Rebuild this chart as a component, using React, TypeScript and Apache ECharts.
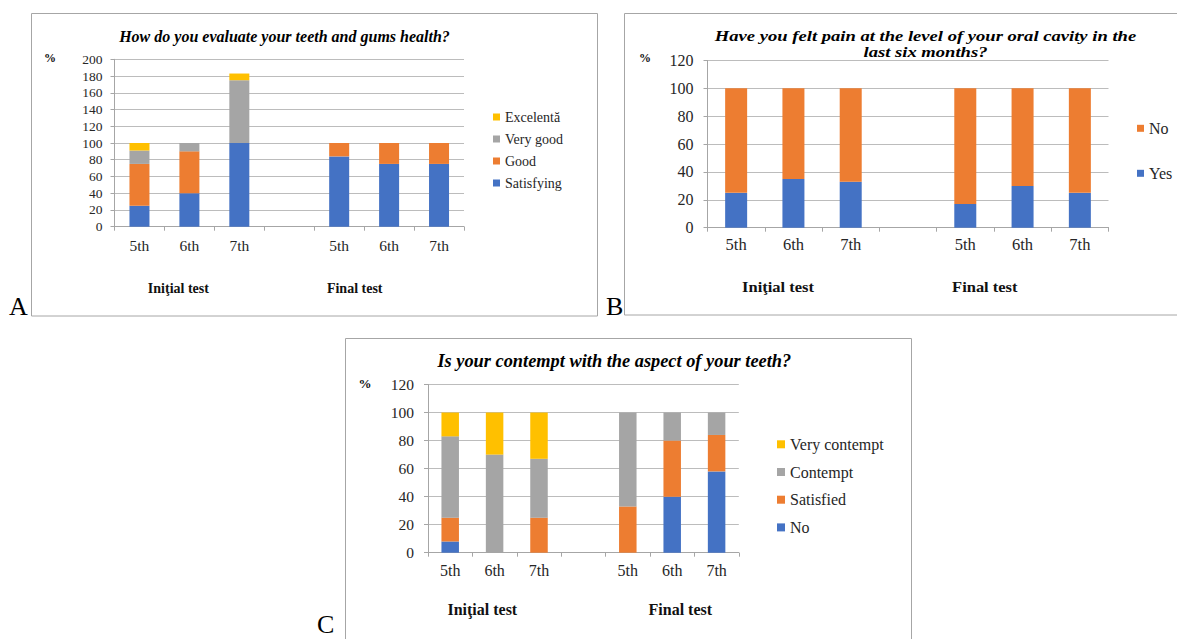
import React, { useEffect, useRef } from 'react';
import * as echarts from 'echarts';

// ---------- data ----------
const categories = ['5th', '6th', '7th', '', '5th', '6th', '7th'];
const groupLabels = ['Iniţial test', 'Final test'];

// Panel A: How do you evaluate your teeth and gums health?
const healthTitle = ['How do you evaluate your teeth and gums health?'];
const healthSatisfying = [25, 40, 100, 0, 84, 75, 75];
const healthGood = [50, 50, 0, 0, 16, 25, 25];
const healthVeryGood = [16, 10, 75, 0, 0, 0, 0];
const healthExcelenta = [9, 0, 8, 0, 0, 0, 0];

// Panel B: pain in the last six months
const painTitle = ['Have you felt pain at the level of your oral cavity in the', 'last six months?'];
const painYes = [25, 35, 33, 0, 17, 30, 25];
const painNo = [75, 65, 67, 0, 83, 70, 75];

// Panel C: aspect of teeth
const aspectTitle = ['Is your contempt with the aspect of your teeth?'];
const aspectNo = [8, 0, 0, 0, 0, 40, 58];
const aspectSatisfied = [17, 0, 25, 0, 33, 40, 26];
const aspectContempt = [58, 70, 42, 0, 67, 20, 16];
const aspectVeryContempt = [17, 30, 33, 0, 0, 0, 0];

// ---------- styles ----------
const SERIF = 'Liberation Serif';
const BLUE = '#4472C4';
const ORANGE = '#ED7D31';
const GRAY = '#A5A5A5';
const YELLOW = '#FFC000';
const AXIS = '#a6a6a6';
const GRID = '#bcbcbc';
const TXT = '#262626';

type SeriesDef = { name: string; data: number[]; color: string };

function text(x: number, y: number, t: string, size: number, opts: any = {}) {
  const { align = 'center', style = 'normal', weight = 'normal', sx = 1, ...extra } = opts;
  return {
    type: 'text',
    x,
    y,
    scaleX: sx,
    silent: true,
    style: {
      text: t,
      fontFamily: SERIF,
      fontSize: size,
      fontStyle: style,
      fontWeight: weight,
      fill: '#111',
      textAlign: align,
      align,
      textVerticalAlign: 'middle',
      verticalAlign: 'middle',
      ...extra,
    },
  };
}

function richStyle(size: number, lineHeight?: number) {
  return {
    fontFamily: SERIF,
    fontSize: size,
    fontStyle: 'normal',
    fontWeight: 'normal',
    color: TXT,
    ...(lineHeight ? { lineHeight } : {}),
  };
}

function buildOption(p: any) {
  const series = p.series.map((s: SeriesDef) => ({
    type: 'bar',
    name: s.name,
    stack: 'total',
    data: s.data,
    barWidth: p.barWidth,
    itemStyle: { color: s.color },
    emphasis: { disabled: true },
  }));
  const titleTexts = p.title.lines.map((line: string, i: number) =>
    text(p.title.x, p.title.y + i * p.title.lineGap, line, p.title.size, {
      style: 'italic',
      weight: 'bold',
      fill: '#000',
      sx: p.title.sx,
    })
  );
  return {
    animation: false,
    textStyle: { fontFamily: SERIF },
    grid: { left: p.grid.left, top: p.grid.top, width: p.grid.width, height: p.grid.height, containLabel: false },
    xAxis: {
      type: 'category',
      data: categories,
      axisLine: { show: true, lineStyle: { color: AXIS, width: 1 } },
      axisTick: { show: true, length: 4, lineStyle: { color: AXIS } },
      axisLabel: {
        interval: 0,
        margin: p.xMargin,
        fontFamily: SERIF,
        fontSize: p.xFont,
        color: TXT,
        formatter: (v: string) => (v ? `{t|${v}}` : ''),
        rich: { t: richStyle(p.xFont) },
      },
      splitLine: { show: false },
    },
    yAxis: {
      type: 'value',
      min: 0,
      max: p.yMax,
      interval: 20,
      axisLine: { show: true, lineStyle: { color: AXIS, width: 1 } },
      axisTick: { show: true, length: 4, lineStyle: { color: AXIS } },
      axisLabel: {
        margin: p.yMargin,
        fontFamily: SERIF,
        fontSize: p.yFont,
        color: TXT,
        formatter: (v: number) => `{t|${v}}`,
        rich: { t: richStyle(p.yFont) },
      },
      splitLine: { show: true, lineStyle: { color: GRID, width: 1 } },
    },
    legend: {
      orient: 'vertical',
      left: p.legend.left,
      top: p.legend.top,
      padding: 0,
      itemWidth: p.legend.size,
      itemHeight: p.legend.size,
      itemGap: p.legend.gap,
      icon: 'rect',
      selectedMode: false,
      data: p.legend.order,
      formatter: (name: string) => `{t|${name}}`,
      textStyle: {
        fontFamily: SERIF,
        fontSize: p.legend.font,
        color: TXT,
        lineHeight: p.legend.lineHeight,
        rich: { t: richStyle(p.legend.font, p.legend.lineHeight) },
      },
    },
    series,
    graphic: [
      {
        type: 'rect',
        silent: true,
        shape: { x: p.box.x, y: p.box.y, width: p.box.w, height: p.box.h },
        style: { fill: 'none', stroke: AXIS, lineWidth: 1 },
      },
      text(p.letter.x, p.letter.y, p.letter.t, 26, { align: 'left', fill: '#000' }),
      ...titleTexts,
      text(p.pct.x, p.pct.y, '%', p.pct.size, { weight: 'bold' }),
      text(p.groups[0].x, p.groups[0].y, groupLabels[0], p.groupFont, { weight: 'bold', sx: p.groupSx }),
      text(p.groups[1].x, p.groups[1].y, groupLabels[1], p.groupFont, { weight: 'bold', sx: p.groupSx }),
    ],
  };
}

const panelA = {
  grid: { left: 114.5, top: 59.3, width: 349.5, height: 167.4 },
  yMax: 200,
  barWidth: 20,
  xFont: 15.5,
  xMargin: 10.5,
  yFont: 13.5,
  yMargin: 12,
  series: [
    { name: 'Satisfying', data: healthSatisfying, color: BLUE },
    { name: 'Good', data: healthGood, color: ORANGE },
    { name: 'Very good', data: healthVeryGood, color: GRAY },
    { name: 'Excelentă', data: healthExcelenta, color: YELLOW },
  ],
  legend: { left: 493, top: 109, size: 7, gap: 6, font: 14, lineHeight: 16, order: ['Excelentă', 'Very good', 'Good', 'Satisfying'] },
  box: { x: 31.5, y: 13.5, w: 566, h: 302.5 },
  letter: { x: 9, y: 306, t: 'A' },
  title: { x: 284.5, y: 36.7, lines: healthTitle, size: 16, lineGap: 16, sx: 1 },
  pct: { x: 50, y: 58.3, size: 12 },
  groups: [{ x: 178.4, y: 288.3 }, { x: 354.7, y: 288.3 }],
  groupFont: 14,
  groupSx: 1,
};

const panelB = {
  grid: { left: 107.5, top: 60.4, width: 401, height: 167.3 },
  yMax: 120,
  barWidth: 22,
  xFont: 16.5,
  xMargin: 8.4,
  yFont: 16,
  yMargin: 14,
  series: [
    { name: 'Yes', data: painYes, color: BLUE },
    { name: 'No', data: painNo, color: ORANGE },
  ],
  legend: { left: 537, top: 119.3, size: 7, gap: 27, font: 16, lineHeight: 18, order: ['No', 'Yes'] },
  box: { x: 24.5, y: 13.5, w: 560, h: 301.5 },
  letter: { x: 6, y: 306, t: 'B' },
  title: { x: 325.5, y: 36.5, lines: painTitle, size: 15.5, lineGap: 16, sx: 1.2 },
  pct: { x: 45, y: 57.7, size: 12 },
  groups: [{ x: 178, y: 286.7 }, { x: 384.8, y: 286.7 }],
  groupFont: 15,
  groupSx: 1.1,
};

const panelC = {
  grid: { left: 128, top: 59.5, width: 310.8, height: 168.2 },
  yMax: 120,
  barWidth: 17.5,
  xFont: 16,
  xMargin: 9.3,
  yFont: 15.5,
  yMargin: 14,
  series: [
    { name: 'No', data: aspectNo, color: BLUE },
    { name: 'Satisfied', data: aspectSatisfied, color: ORANGE },
    { name: 'Contempt', data: aspectContempt, color: GRAY },
    { name: 'Very contempt', data: aspectVeryContempt, color: YELLOW },
  ],
  legend: { left: 477, top: 110.3, size: 8, gap: 9.7, font: 16, lineHeight: 18, order: ['Very contempt', 'Contempt', 'Satisfied', 'No'] },
  box: { x: 45.5, y: 13.5, w: 566, h: 310 },
  letter: { x: 17, y: 299, t: 'C' },
  title: { x: 314.3, y: 36, lines: aspectTitle, size: 18, lineGap: 18, sx: 1.02 },
  pct: { x: 65, y: 58.3, size: 13 },
  groups: [{ x: 182.3, y: 284 }, { x: 380.3, y: 284 }],
  groupFont: 16,
  groupSx: 1,
};

function Panel({ cfg, left, top, width, height }: any) {
  const ref = useRef<HTMLDivElement>(null);
  useEffect(() => {
    if (!ref.current) return;
    const chart = echarts.init(ref.current, null, { renderer: 'svg' });
    chart.setOption(buildOption(cfg));
    return () => chart.dispose();
  }, [cfg]);
  return <div ref={ref} style={{ position: 'absolute', left, top, width, height }} />;
}

export default function App() {
  return (
    <div style={{ position: 'absolute', left: 0, top: 0, width: 1177, height: 639, background: '#fff', overflow: 'hidden' }}>
      <Panel cfg={panelA} left={0} top={0} width={600} height={320} />
      <Panel cfg={panelB} left={600} top={0} width={577} height={320} />
      <Panel cfg={panelC} left={300} top={325} width={620} height={314} />
    </div>
  );
}
